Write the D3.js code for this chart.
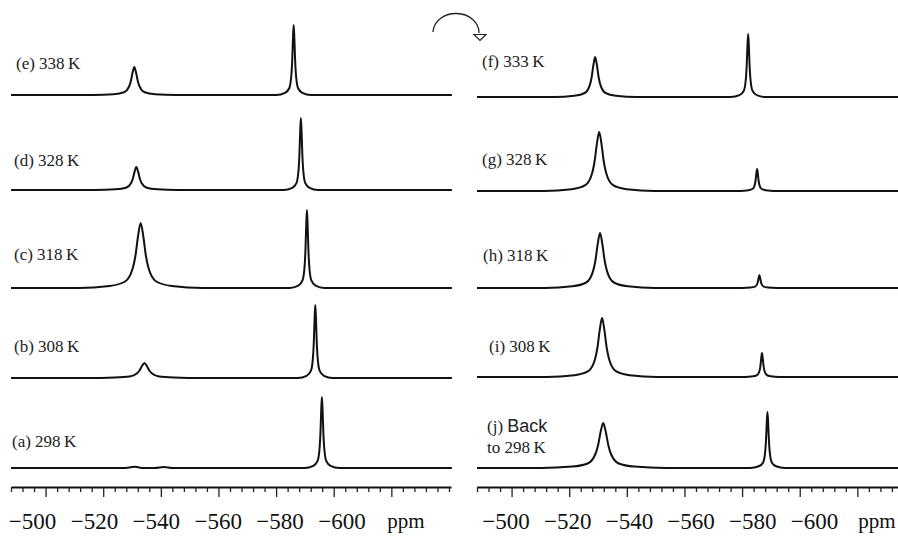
<!DOCTYPE html>
<html>
<head>
<meta charset="utf-8">
<script src="https://cdn.jsdelivr.net/npm/d3@7"></script>
<style>
body { margin: 0; background: #fff; }
svg { display: block; }
</style>
</head>
<body>
<svg width="898" height="536"></svg>
<script>
// spectra: [ppm, intensity]
const specE = [[-488,0],
  [-516.4,0],[-523.6,0.8],[-527.2,2.8],[-529.0,8.7],[-529.6,14],[-530.2,22.4],[-530.8,28],[-531.4,22.4],[-532.0,14],[-532.6,8.7],[-534.4,2.8],[-538.0,0.8],[-545.2,0],
  [-580.1,0],[-583.1,2.1],[-584.6,7],[-585.35,21.7],[-585.6,35],[-585.85,56],[-586.1,70],[-586.35,56],[-586.6,35],[-586.85,21.7],[-587.6,7],[-589.1,2.1],[-592.1,0],
  [-641,0]];
const specD = [[-488,0],
  [-517.1,0],[-524.3,0.7],[-527.9,2.3],[-529.7,7.1],[-530.3,11.5],[-530.9,18.4],[-531.5,23],[-532.1,18.4],[-532.7,11.5],[-533.3,7.1],[-535.1,2.3],[-538.7,0.7],[-545.9,0],
  [-582.6,0],[-585.6,2.2],[-587.1,7.2],[-587.85,22.3],[-588.1,36],[-588.35,57.6],[-588.6,72],[-588.85,57.6],[-589.1,36],[-589.35,22.3],[-590.1,7.2],[-591.6,2.2],[-594.6,0],
  [-641,0]];
const specC = [[-488,0],
  [-511.4,0],[-522.2,2],[-527.6,6.5],[-530.3,20.2],[-531.2,32.5],[-532.1,52],[-533.0,65],[-533.9,52],[-534.8,32.5],[-535.7,20.2],[-538.4,6.5],[-543.8,2],[-554.6,0],
  [-584.7,0],[-587.7,2.3],[-589.2,7.8],[-589.95,24.2],[-590.2,39],[-590.45,62.4],[-590.7,78],[-590.95,62.4],[-591.2,39],[-591.45,24.2],[-592.2,7.8],[-593.7,2.3],[-596.7,0],
  [-641,0]];
const specB = [[-488,0],
  [-513.9,0],[-524.1,0.5],[-529.2,1.5],[-531.75,4.7],[-532.6,7.5],[-533.45,12],[-534.3,15],[-535.15,12],[-536.0,7.5],[-536.85,4.7],[-539.4,1.5],[-544.5,0.5],[-554.7,0],
  [-587.6,0],[-590.6,2.2],[-592.1,7.3],[-592.85,22.6],[-593.1,36.5],[-593.35,58.4],[-593.6,73],[-593.85,58.4],[-594.1,36.5],[-594.35,22.6],[-595.1,7.3],[-596.6,2.2],[-599.6,0],
  [-641,0]];
const specA = [[-488,0],
  [-527,0],[-531,1.2],[-534,0],[-538,0],[-541,1],[-544,0],
  [-589.9,0],[-592.9,2.1],[-594.4,7.1],[-595.15,22],[-595.4,35.5],[-595.65,56.8],[-595.9,71],[-596.15,56.8],[-596.4,35.5],[-596.65,22],[-597.4,7.1],[-598.9,2.1],[-601.9,0],
  [-641,0]];

const specF = [[-488,0],
  [-514.6,0],[-521.8,1.2],[-525.4,4],[-527.2,12.4],[-527.8,20],[-528.4,32],[-529.0,40],[-529.6,32],[-530.2,20],[-530.8,12.4],[-532.6,4],[-536.2,1.2],[-543.4,0],
  [-576.1,0],[-579.1,1.9],[-580.6,6.3],[-581.35,19.5],[-581.6,31.5],[-581.85,50.4],[-582.1,63],[-582.35,50.4],[-582.6,31.5],[-582.85,19.5],[-583.6,6.3],[-585.1,1.9],[-588.1,0],
  [-641,0]];
const specG = [[-488,0],
  [-511.2,0],[-520.8,1.8],[-525.6,5.9],[-528.0,18.3],[-528.8,29.5],[-529.6,47.2],[-530.4,59],[-531.2,47.2],[-532.0,29.5],[-532.8,18.3],[-535.2,5.9],[-540.0,1.8],[-549.6,0],
  [-579.2,0],[-582.2,0.7],[-583.7,2.2],[-584.45,6.8],[-584.7,11],[-584.95,17.6],[-585.2,22],[-585.45,17.6],[-585.7,11],[-585.95,6.8],[-586.7,2.2],[-588.2,0.7],[-591.2,0],
  [-641,0]];
const specH = [[-488,0],
  [-511.5,0],[-521.1,1.7],[-525.9,5.5],[-528.3,17.1],[-529.1,27.5],[-529.9,44],[-530.7,55],[-531.5,44],[-532.3,27.5],[-533.1,17.1],[-535.5,5.5],[-540.3,1.7],[-549.9,0],
  [-580.0,0],[-583.0,0.4],[-584.5,1.3],[-585.25,4],[-585.5,6.5],[-585.75,10.4],[-586.0,13],[-586.25,10.4],[-586.5,6.5],[-586.75,4],[-587.5,1.3],[-589.0,0.4],[-592.0,0],
  [-641,0]];
const specI = [[-488,0],
  [-512.2,0],[-521.8,1.8],[-526.6,5.9],[-529.0,18.3],[-529.8,29.5],[-530.6,47.2],[-531.4,59],[-532.2,47.2],[-533.0,29.5],[-533.8,18.3],[-536.2,5.9],[-541.0,1.8],[-550.6,0],
  [-580.9,0],[-583.9,0.7],[-585.4,2.4],[-586.15,7.4],[-586.4,12],[-586.65,19.2],[-586.9,24],[-587.15,19.2],[-587.4,12],[-587.65,7.4],[-588.4,2.4],[-589.9,0.7],[-592.9,0],
  [-641,0]];
const specJ = [[-488,0],
  [-510.2,0],[-521.0,1.4],[-526.4,4.5],[-529.1,14],[-530.0,22.5],[-530.9,36],[-531.8,45],[-532.7,36],[-533.6,22.5],[-534.5,14],[-537.2,4.5],[-542.6,1.4],[-553.4,0],
  [-582.8,0],[-585.8,1.7],[-587.3,5.6],[-588.05,17.4],[-588.3,28],[-588.55,44.8],[-588.8,56],[-589.05,44.8],[-589.3,28],[-589.55,17.4],[-590.3,5.6],[-591.8,1.7],[-594.8,0],
  [-641,0]];

const leftNames = ["(e) 338\u2009K", "(d) 328\u2009K", "(c) 318\u2009K", "(b) 308\u2009K", "(a) 298\u2009K"];
const rightNames = ["(f) 333\u2009K", "(g) 328\u2009K", "(h) 318\u2009K", "(i) 308\u2009K", "(j) "];
const backLabel = ["Back", "to 298\u2009K"];
const tickLabels = [-500, -520, -540, -560, -580, -600];
const unitLabel = "ppm";

const svg = d3.select("svg");
const serif = "'Liberation Serif', 'Times New Roman', serif";

const panels = [
  { spectra: [specE, specD, specC, specB, specA], names: leftNames, x0: 11,
    bases: [95, 190, 288, 378, 468], labelRange: [32.5, 342], unitX: 406,
    namePos: [[16, 69], [14, 166], [14, 260], [14, 352], [12, 447]] },
  { spectra: [specF, specG, specH, specI, specJ], names: rightNames, x0: 477,
    bases: [97, 191, 288, 377, 468], labelRange: [506, 814.5], unitX: 877,
    namePos: [[482, 67], [482, 165], [483, 261], [489, 352], [487, 432]] }
];

panels.forEach(function(p, pi) {
  var x = d3.scaleLinear().domain([-488, -640.7]).range([p.x0, p.x0 + 440]);
  var g = svg.append("g");

  p.spectra.forEach(function(s, i) {
    var y = d3.scaleLinear().domain([0, 100]).range([p.bases[i], p.bases[i] - 100]);
    var line = d3.line()
        .x(function(d) { return x(d[0]); })
        .y(function(d) { return y(d[1]); })
        .curve(d3.curveMonotoneX);
    g.append("path")
        .datum(d3.sort(s, function(d) { return -d[0]; }))
        .attr("d", line)
        .attr("fill", "none")
        .attr("stroke", "#111")
        .attr("stroke-width", 2)
        .attr("stroke-linejoin", "round");

    var t = g.append("text")
        .attr("x", p.namePos[i][0])
        .attr("y", p.namePos[i][1])
        .attr("font-family", serif)
        .attr("font-size", 17)
        .attr("fill", "#222")
        .text(p.names[i]);
    if (pi === 1 && i === 4) {
      t.append("tspan")
          .attr("font-family", "'Liberation Sans', Arial, sans-serif")
          .attr("font-size", 18)
          .text(backLabel[0]);
      g.append("text")
          .attr("x", p.namePos[i][0])
          .attr("y", p.namePos[i][1] + 21)
          .attr("font-family", serif)
          .attr("font-size", 17)
          .attr("fill", "#222")
          .text(backLabel[1]);
    }
  });

  // axis with minor ticks every 4 ppm, major every 20
  var axis = d3.axisBottom(x)
      .tickValues(d3.range(-488, -641, -4))
      .tickFormat("")
      .tickSizeOuter(0);
  var ag = g.append("g")
      .attr("transform", "translate(0,487)")
      .call(axis);
  ag.select(".domain").attr("stroke", "#111").attr("stroke-width", 2.2);
  ag.selectAll(".tick line")
      .attr("stroke", "#222")
      .attr("stroke-width", 1.3)
      .attr("y2", function(d) { return (d % 20 === 0 && d >= -620) ? 10 : 5; });

  var lx = d3.scaleLinear().domain([-500, -600]).range(p.labelRange);
  g.selectAll("text.tl")
    .data(tickLabels)
    .join("text")
      .attr("class", "tl")
      .attr("x", function(d) { return lx(d); })
      .attr("y", 529)
      .attr("text-anchor", "middle")
      .attr("font-family", serif)
      .attr("font-size", 23)
      .attr("fill", "#111")
      .text(function(d) { return "\u2212" + Math.abs(d); });
  g.append("text")
      .attr("x", p.unitX)
      .attr("y", 528)
      .attr("text-anchor", "middle")
      .attr("font-family", serif)
      .attr("font-size", 21)
      .attr("fill", "#111")
      .text(unitLabel);
});

// curved arrow between the panels
svg.append("path")
    .attr("d", "M433,32 A23,19 0 0 1 479,33")
    .attr("fill", "none")
    .attr("stroke", "#222")
    .attr("stroke-width", 1.3);
svg.append("path")
    .attr("d", "M474,34.5 L486,34.5 L480,40.5 Z")
    .attr("fill", "#fff")
    .attr("stroke", "#222")
    .attr("stroke-width", 1.2);
</script>
</body>
</html>
